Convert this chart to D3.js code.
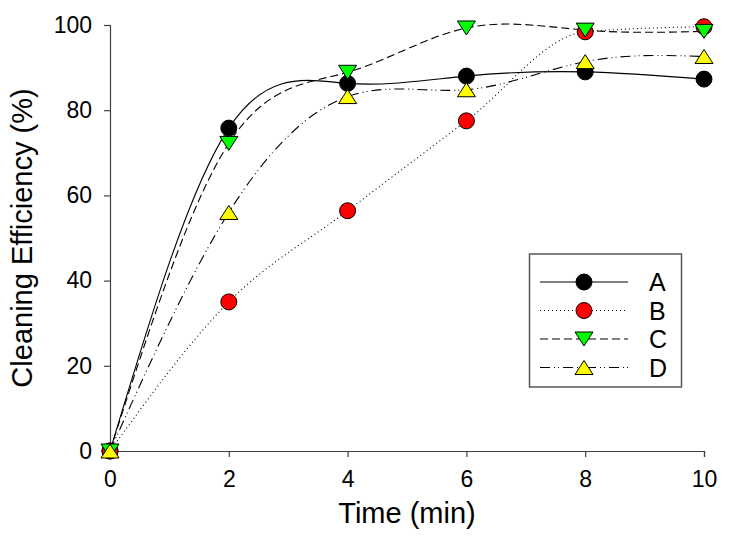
<!DOCTYPE html>
<html>
<head>
<meta charset="utf-8">
<script src="https://cdn.jsdelivr.net/npm/d3@7"></script>
<style>
  html, body { margin: 0; padding: 0; background: #fff; }
  svg { display: block; font-family: Arial, "Liberation Sans", sans-serif; }
</style>
</head>
<body>
<svg id="chart" width="729" height="553"></svg>
<script>
const times = [0, 2, 4, 6, 8, 10];
const seriesNames = ["A", "B", "C", "D"];
const valuesA = [0, 75.8, 86.3, 88.0, 89.0, 87.3];
const valuesB = [0, 35.0, 56.4, 77.5, 98.4, 99.6];
const valuesC = [0, 72.2, 88.9, 99.3, 98.8, 98.5];
const valuesD = [0, 56.0, 83.2, 84.8, 91.4, 92.6];
const xTicks = [0, 2, 4, 6, 8, 10];
const yTicks = [0, 20, 40, 60, 80, 100];

const styles = {
  A: { fill: "#000000", shape: "circle", dash: null, curve: d3.curveNatural },
  B: { fill: "#ff0000", shape: "circle", dash: "1,3", curve: d3.curveMonotoneX },
  C: { fill: "#00ff00", shape: "down", dash: "8,4", curve: d3.curveNatural },
  D: { fill: "#ffff00", shape: "up", dash: "10,4,1,3,1,4", curve: d3.curveNatural }
};
const allValues = { A: valuesA, B: valuesB, C: valuesC, D: valuesD };

const svg = d3.select("#chart");
const x = d3.scaleLinear().domain([0, 10]).range([110, 704]);
const y = d3.scaleLinear().domain([0, 100]).range([451, 25]);

// axes
const xAxis = d3.axisBottom(x).tickValues(xTicks).tickSizeOuter(0).tickSize(6).tickPadding(14);
const yAxis = d3.axisLeft(y).tickValues(yTicks).tickSizeOuter(0).tickSize(6).tickPadding(12);

const gx = svg.append("g").attr("transform", "translate(0,451)").call(xAxis);
const gy = svg.append("g").attr("transform", "translate(110,0)").call(yAxis);
[gx, gy].forEach(g => {
  g.select(".domain").attr("stroke", "#404040").attr("stroke-width", 1.2);
  g.selectAll(".tick line").attr("stroke", "#404040").attr("stroke-width", 1.2);
  g.selectAll(".tick text").attr("font-size", 23).attr("fill", "#000")
    .attr("font-family", "Arial, 'Liberation Sans', sans-serif");
});

// axis titles
svg.append("text").attr("x", 407).attr("y", 523).attr("text-anchor", "middle")
  .attr("font-size", 29).text("Time (min)");
svg.append("text").attr("transform", "translate(32,238) rotate(-90)")
  .attr("text-anchor", "middle").attr("font-size", 29).text("Cleaning Efficiency (%)");

// lines
seriesNames.forEach(name => {
  const line = d3.line().x(d => x(d[0])).y(d => y(d[1])).curve(styles[name].curve);
  const pts = times.map((t, i) => [t, allValues[name][i]]);
  svg.append("path").datum(pts).attr("d", line)
    .attr("fill", "none").attr("stroke", "#000").attr("stroke-width", 1.1)
    .attr("stroke-dasharray", styles[name].dash);
});

function drawMarker(g, shape, cx, cy, fill) {
  if (shape === "circle") {
    g.append("circle").attr("cx", cx).attr("cy", cy).attr("r", 8)
      .attr("fill", fill).attr("stroke", "#000").attr("stroke-width", 1);
  } else {
    const w = 9, h = 7;
    const pts = shape === "up"
      ? [[cx - w, cy + h], [cx + w, cy + h], [cx, cy - h]]
      : [[cx - w, cy - h], [cx + w, cy - h], [cx, cy + h]];
    g.append("path").attr("d", "M" + pts.map(p => p.join(",")).join("L") + "Z")
      .attr("fill", fill).attr("stroke", "#000").attr("stroke-width", 1).attr("stroke-linejoin", "miter");
  }
}

// markers
seriesNames.forEach(name => {
  const g = svg.append("g");
  times.forEach((t, i) => drawMarker(g, styles[name].shape, x(t), y(allValues[name][i]), styles[name].fill));
});

// legend
const lg = svg.append("g");
lg.append("rect").attr("x", 529.5).attr("y", 254).attr("width", 152).attr("height", 133)
  .attr("fill", "#fff").attr("stroke", "#555").attr("stroke-width", 1.5);
seriesNames.forEach((name, i) => {
  const cy = 282 + i * 28.5;
  lg.append("line").attr("x1", 540).attr("x2", 628).attr("y1", cy).attr("y2", cy)
    .attr("stroke", "#000").attr("stroke-width", 1.1).attr("stroke-dasharray", styles[name].dash);
  drawMarker(lg, styles[name].shape, 584, cy, styles[name].fill);
  lg.append("text").attr("x", 649).attr("y", cy + 9).attr("font-size", 25).text(name);
});
</script>
</body>
</html>
